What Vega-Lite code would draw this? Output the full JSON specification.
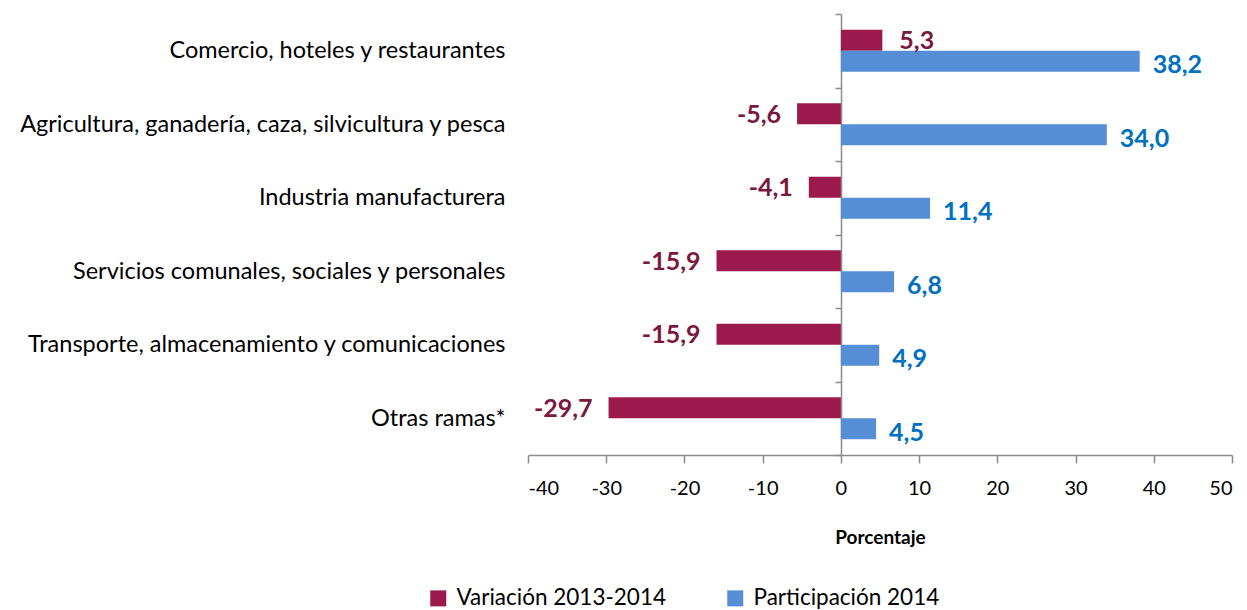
{
  "$schema": "https://vega.github.io/schema/vega-lite/v6.json",
  "width": 704,
  "height": 441,
  "autosize": "none",
  "padding": {"left": 528, "top": 14, "right": 15, "bottom": 155},
  "config": {
    "locale": {"number": {"decimal": ",", "thousands": ".", "grouping": [3], "currency": ["", ""], "minus": "-"}},
    "view": {"stroke": null},
    "font": "Lato"
  },
  "data": {
    "values": [
      {"rama": "Comercio, hoteles y restaurantes", "serie": "Variación 2013-2014", "valor": 5.3},
      {"rama": "Comercio, hoteles y restaurantes", "serie": "Participación 2014", "valor": 38.2},
      {"rama": "Agricultura, ganadería, caza, silvicultura y pesca", "serie": "Variación 2013-2014", "valor": -5.6},
      {"rama": "Agricultura, ganadería, caza, silvicultura y pesca", "serie": "Participación 2014", "valor": 34.0},
      {"rama": "Industria manufacturera", "serie": "Variación 2013-2014", "valor": -4.1},
      {"rama": "Industria manufacturera", "serie": "Participación 2014", "valor": 11.4},
      {"rama": "Servicios comunales, sociales y personales", "serie": "Variación 2013-2014", "valor": -15.9},
      {"rama": "Servicios comunales, sociales y personales", "serie": "Participación 2014", "valor": 6.8},
      {"rama": "Transporte, almacenamiento y comunicaciones", "serie": "Variación 2013-2014", "valor": -15.9},
      {"rama": "Transporte, almacenamiento y comunicaciones", "serie": "Participación 2014", "valor": 4.9},
      {"rama": "Otras ramas*", "serie": "Variación 2013-2014", "valor": -29.7},
      {"rama": "Otras ramas*", "serie": "Participación 2014", "valor": 4.5}
    ]
  },
  "encoding": {
    "y": {
      "field": "rama",
      "type": "nominal",
      "sort": ["Comercio, hoteles y restaurantes", "Agricultura, ganadería, caza, silvicultura y pesca", "Industria manufacturera", "Servicios comunales, sociales y personales", "Transporte, almacenamiento y comunicaciones", "Otras ramas*"],
      "scale": {"paddingInner": 0, "paddingOuter": 0},
      "axis": {
        "title": null,
        "orient": "left",
        "offset": -313,
        "tickBand": "extent",
        "tickSize": 6,
        "tickColor": "#8c8c8c",
        "tickWidth": 1.5,
        "domainColor": "#8c8c8c",
        "domainWidth": 1.5,
        "labelPadding": 330,
        "labelFontSize": 23.5,
        "labelColor": "#000000",
        "labelLimit": 700
      }
    },
    "yOffset": {
      "field": "serie",
      "type": "nominal",
      "sort": ["Variación 2013-2014", "Participación 2014"],
      "scale": {"paddingInner": 0, "paddingOuter": 0.75}
    },
    "x": {
      "field": "valor",
      "type": "quantitative",
      "scale": {"domain": [-40, 50], "nice": false, "zero": false},
      "axis": {
        "values": [-40, -30, -20, -10, 0, 10, 20, 30, 40, 50],
        "grid": false,
        "tickSize": 8,
        "tickColor": "#8c8c8c",
        "tickWidth": 1.5,
        "domainColor": "#8c8c8c",
        "domainWidth": 1.5,
        "labelFontSize": 20,
        "labelColor": "#000000",
        "labelPadding": 15,
        "title": "Porcentaje",
        "titleFontSize": 19,
        "titleFontWeight": "bold",
        "titleColor": "#000000",
        "titlePadding": 30
      }
    }
  },
  "layer": [
    {
      "mark": {"type": "bar"},
      "encoding": {
        "color": {
          "field": "serie",
          "type": "nominal",
          "scale": {"domain": ["Variación 2013-2014", "Participación 2014"], "range": ["#9C1A4B", "#558ED5"]},
          "legend": {
            "title": null,
            "orient": "none",
            "legendX": -101,
            "legendY": 573,
            "direction": "horizontal",
            "columns": 2,
            "columnPadding": 57,
            "symbolType": "square",
            "symbolSize": 256,
            "symbolStrokeWidth": 0,
            "labelFontSize": 22.5,
            "labelColor": "#000000",
            "labelOffset": 7,
            "labelLimit": 400
          }
        }
      }
    },
    {
      "transform": [{"filter": "datum.valor >= 0 && datum.serie === 'Variación 2013-2014'"}],
      "mark": {"type": "text", "align": "left", "baseline": "middle", "dx": 17, "dy": 1, "fontWeight": "bold", "fontSize": 25, "color": "#7B1840"},
      "encoding": {"text": {"field": "valor", "type": "quantitative", "format": ".1f"}}
    },
    {
      "transform": [{"filter": "datum.valor >= 0 && datum.serie === 'Participación 2014'"}],
      "mark": {"type": "text", "align": "left", "baseline": "middle", "dx": 13, "dy": 4, "fontWeight": "bold", "fontSize": 25, "color": "#0070C0"},
      "encoding": {"text": {"field": "valor", "type": "quantitative", "format": ".1f"}}
    },
    {
      "transform": [{"filter": "datum.valor < 0"}],
      "mark": {"type": "text", "align": "right", "baseline": "middle", "dx": -16, "dy": 1, "fontWeight": "bold", "fontSize": 25, "color": "#7B1840"},
      "encoding": {"text": {"field": "valor", "type": "quantitative", "format": ".1f"}}
    }
  ]
}
